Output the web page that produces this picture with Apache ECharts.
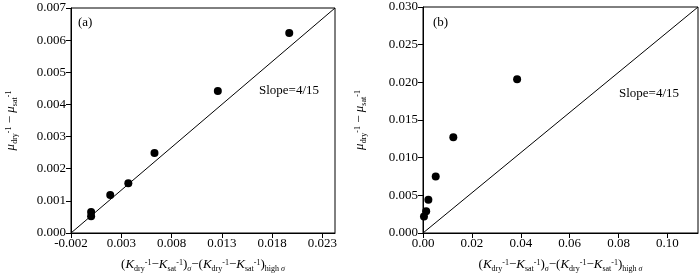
<!DOCTYPE html>
<html>
<head>
<meta charset="utf-8">
<script src="https://cdn.jsdelivr.net/npm/echarts@6/dist/echarts.min.js"></script>
<style>
  html, body { margin: 0; padding: 0; background: #fff; }
  #chart { width: 700px; height: 280px; }
</style>
</head>
<body>
<div id="chart"></div>
<script>
// panel (a)
const xValuesA = [0.0197, 0.0126, 0.0063, 0.0037, 0.0019, 0.0000, 0.0000];
const yValuesA = [0.00622, 0.00442, 0.00249, 0.00155, 0.00118, 0.00065, 0.00052];
const slopeLineA = [[-0.002, 0], [0.02425, 0.007]];
const xTicksA = [-0.002, 0.003, 0.008, 0.013, 0.018, 0.023];
const yTicksA = [0, 0.001, 0.002, 0.003, 0.004, 0.005, 0.006, 0.007];

// panel (b)
const xValuesB = [0.0385, 0.0124, 0.0052, 0.0022, 0.0013, 0.0004, -0.0003];
const yValuesB = [0.0204, 0.0127, 0.0075, 0.0044, 0.0029, 0.0022, 0.0017];
const slopeLineB = [[0, 0], [0.1125, 0.030]];
const xTicksB = [0, 0.02, 0.04, 0.06, 0.08, 0.10];
const yTicksB = [0, 0.005, 0.010, 0.015, 0.020, 0.025, 0.030];

const serif = '"Liberation Serif", "DejaVu Serif", serif';

const richName = {
  n: { fontFamily: serif, fontSize: 13, color: '#000', lineHeight: 20 },
  i: { fontFamily: serif, fontSize: 13, fontStyle: 'italic', color: '#000', lineHeight: 20 },
  sub: { fontFamily: serif, fontSize: 8, color: '#000', lineHeight: 20, verticalAlign: 'bottom', padding: [0, 0, 2, 0] },
  subi: { fontFamily: serif, fontSize: 8, fontStyle: 'italic', color: '#000', lineHeight: 20, verticalAlign: 'bottom', padding: [0, 0, 2, 0] },
  sup: { fontFamily: serif, fontSize: 8, color: '#000', lineHeight: 20, verticalAlign: 'top', padding: [4, 0, 0, 0] }
};

const xName = '{n|(}{i|K}{sub|dry}{sup|-1}{n|−}{i|K}{sub|sat}{sup|-1}{n|)}{subi|σ}{n|−(}{i|K}{sub|dry}{sup|-1}{n|−}{i|K}{sub|sat}{sup|-1}{n|)}{sub|high }{subi|σ}';
const yName = '{i|μ}{sub|dry}{sup|-1}{n| − }{i|μ}{sub|sat}{sup|-1}';

function makeX(gridIndex, min, max, ticks, digits) {
  return {
    gridIndex: gridIndex,
    type: 'value',
    min: min,
    max: max,
    name: xName,
    nameLocation: 'middle',
    nameGap: 22,
    nameTextStyle: { rich: richName },
    axisLine: { onZero: false, lineStyle: { color: '#000', width: 1 } },
    axisTick: { inside: false, length: 5, lineStyle: { color: '#000' }, customValues: ticks },
    axisLabel: {
      customValues: ticks,
      color: '#000',
      fontFamily: serif,
      fontSize: 13,
      margin: 4,
      formatter: (v) => v.toFixed(digits)
    },
    splitLine: { show: false }
  };
}

function makeY(gridIndex, max, ticks, gap) {
  return {
    gridIndex: gridIndex,
    type: 'value',
    min: 0,
    max: max,
    name: yName,
    nameLocation: 'middle',
    nameRotate: 90,
    nameGap: gap,
    nameTextStyle: { rich: richName },
    axisLine: { onZero: false, lineStyle: { color: '#000', width: 1 } },
    axisTick: { inside: false, length: 5, lineStyle: { color: '#000' }, customValues: ticks },
    axisLabel: {
      customValues: ticks,
      color: '#000',
      fontFamily: serif,
      fontSize: 13,
      margin: 5,
      formatter: (v) => v.toFixed(3)
    },
    splitLine: { show: false }
  };
}

function scatter(idx, xs, ys) {
  return {
    type: 'scatter',
    xAxisIndex: idx,
    yAxisIndex: idx,
    symbolSize: 8,
    itemStyle: { color: '#000', opacity: 1 },
    data: xs.map((x, i) => [x, ys[i]]),
    z: 3
  };
}

function slope(idx, line) {
  return {
    type: 'line',
    xAxisIndex: idx,
    yAxisIndex: idx,
    symbol: 'none',
    lineStyle: { color: '#000', width: 1 },
    data: line,
    z: 2
  };
}

const chart = echarts.init(document.getElementById('chart'));

chart.setOption({
  animation: false,
  backgroundColor: '#fff',
  grid: [
    { left: 66, right: 365, top: 8, bottom: 45, show: true, borderColor: '#000', borderWidth: 1 },
    { left: 423, right: 2, top: 7, bottom: 46, show: true, borderColor: '#000', borderWidth: 1 }
  ],
  xAxis: [
    makeX(0, -0.002, 0.02425, xTicksA, 3),
    makeX(1, 0, 0.1125, xTicksB, 2)
  ],
  yAxis: [
    makeY(0, 0.007, yTicksA, 50),
    makeY(1, 0.030, yTicksB, 53)
  ],
  graphic: [
    { type: 'text', left: 78, top: 16, style: { text: '(a)', font: '13px ' + serif, fill: '#000' } },
    { type: 'text', left: 259, top: 84, style: { text: 'Slope=4/15', font: '13px ' + serif, fill: '#000' } },
    { type: 'text', left: 433, top: 16, style: { text: '(b)', font: '13px ' + serif, fill: '#000' } },
    { type: 'text', left: 619, top: 87, style: { text: 'Slope=4/15', font: '13px ' + serif, fill: '#000' } }
  ],
  series: [
    slope(0, slopeLineA),
    scatter(0, xValuesA, yValuesA),
    slope(1, slopeLineB),
    scatter(1, xValuesB, yValuesB)
  ]
});
</script>
</body>
</html>
